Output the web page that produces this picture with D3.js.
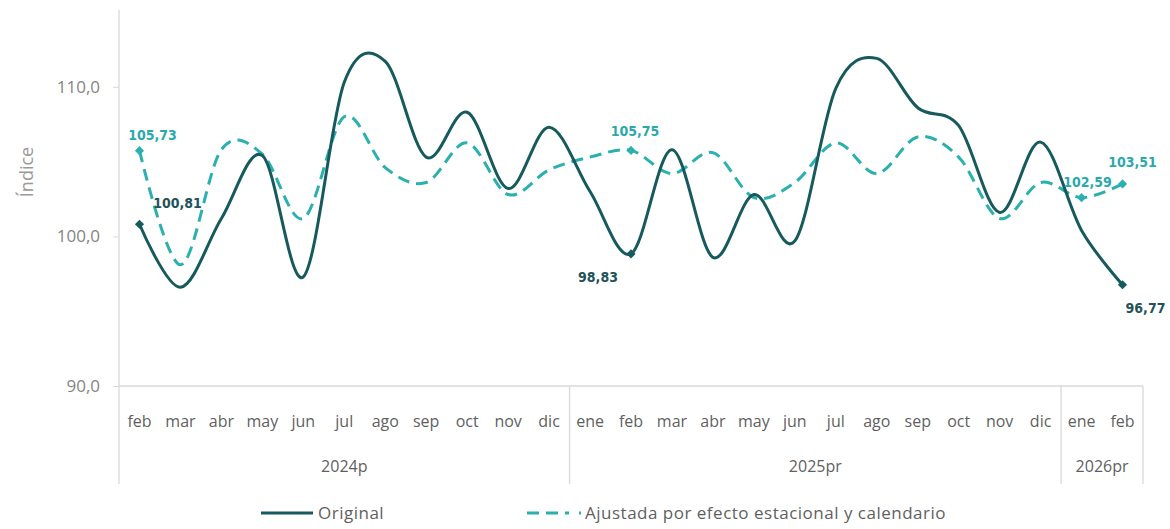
<!DOCTYPE html>
<html lang="es">
<head>
<meta charset="utf-8">
<script src="https://cdn.jsdelivr.net/npm/d3@7"></script>
<style>
  html, body { margin: 0; padding: 0; background: #ffffff; }
  svg { display: block; }
  text { font-family: "Open Sans", "Noto Sans", sans-serif; }
</style>
</head>
<body>
<svg id="chart" width="1170" height="529"></svg>
<script>
// Meses del periodo (feb 2024 – feb 2026)
const months = ["feb","mar","abr","may","jun","jul","ago","sep","oct","nov","dic",
                "ene","feb","mar","abr","may","jun","jul","ago","sep","oct","nov","dic",
                "ene","feb"];
// Grupos de año: etiqueta, primer y último índice de mes
const yearLabels = ["2024p", "2025pr", "2026pr"];
const yearStart  = [0, 11, 23];
const yearEnd    = [10, 22, 24];

// Serie original
const original = [100.81, 96.6, 101.2, 105.4, 97.3, 110.3, 111.7, 105.3, 108.3, 103.2, 107.3,
                  103.0, 98.83, 105.8, 98.6, 102.8, 99.7, 109.9, 111.9, 108.6, 107.4, 101.6, 106.3,
                  100.4, 96.77];
// Serie ajustada por efecto estacional y calendario
const adjusted = [105.73, 98.1, 105.8, 105.5, 101.2, 108.0, 104.6, 103.6, 106.25, 102.8, 104.45,
                  105.3, 105.75, 104.2, 105.6, 102.6, 103.6, 106.25, 104.2, 106.65, 105.3, 101.2, 103.6,
                  102.59, 103.51];

// Puntos con marcador y etiqueta de valor
const originalMarked = [0, 12, 24];
const adjustedMarked = [0, 12, 23, 24];

const yTicks = [90, 100, 110];
const yDomain = [90, 115];

const colorOriginal = "#165a5e";
const colorAdjusted = "#2bb0b0";
const labelOriginal = "#1f5358";
const labelAdjusted = "#2aa9ad";
const gridColor = "#d9d9d9";

const locale = d3.formatLocale({ decimal: ",", thousands: ".", grouping: [3], currency: ["", ""] });
const fmtTick = locale.format(".1f");
const fmtVal = locale.format(".2f");

const svg = d3.select("#chart");

const plotLeft = 119, plotRight = 1143, plotTop = 12, plotBase = 386, frameBottom = 484;

const x = d3.scaleBand().domain(d3.range(months.length)).range([plotLeft, plotRight]);
const cx = i => x(i) + x.bandwidth() / 2;
const y = d3.scaleLinear().domain(yDomain).range([plotBase, plotTop]);

// Eje Y
const yAxis = d3.axisLeft(y).tickValues(yTicks).tickSize(6).tickPadding(13).tickFormat(fmtTick);
const gy = svg.append("g").attr("transform", `translate(${plotLeft},0)`).call(yAxis);
gy.select(".domain").remove();
gy.selectAll(".tick line").attr("stroke", gridColor);
gy.selectAll(".tick text")
  .attr("fill", "#858585")
  .style("font-size", "17px")
  .style("font-family", "'Open Sans', sans-serif");

// Línea vertical izquierda y línea base
svg.append("line").attr("x1", plotLeft).attr("x2", plotLeft).attr("y1", 10).attr("y2", frameBottom)
   .attr("stroke", gridColor).attr("stroke-width", 1.3);
svg.append("line").attr("x1", plotLeft).attr("x2", plotRight).attr("y1", plotBase).attr("y2", plotBase)
   .attr("stroke", gridColor).attr("stroke-width", 1.3);

// Separadores de años
yearEnd.forEach(e => {
  const xs = x(e) + x.bandwidth();
  svg.append("line").attr("x1", xs).attr("x2", xs).attr("y1", plotBase).attr("y2", frameBottom)
     .attr("stroke", gridColor).attr("stroke-width", 1.3);
});

// Etiquetas de mes
svg.append("g").selectAll("text").data(months).join("text")
  .attr("x", (d, i) => cx(i))
  .attr("y", 427)
  .attr("text-anchor", "middle")
  .attr("fill", "#5f5f5f")
  .style("font-size", "16px")
  .text(d => d);

// Etiquetas de año
svg.append("g").selectAll("text").data(yearLabels).join("text")
  .attr("x", (d, i) => (x(yearStart[i]) + x(yearEnd[i]) + x.bandwidth()) / 2)
  .attr("y", 472)
  .attr("text-anchor", "middle")
  .attr("fill", "#5f5f5f")
  .style("font-size", "16px")
  .text(d => d);

// Título del eje Y
svg.append("text")
  .attr("transform", "translate(33,172) rotate(-90)")
  .attr("text-anchor", "middle")
  .attr("fill", "#9a9a9a")
  .style("font-size", "18px")
  .text("Índice");

// Líneas suavizadas
const line = d3.line().x((d, i) => cx(i)).y(d => y(d)).curve(d3.curveCatmullRom.alpha(0));

svg.append("path").datum(adjusted)
  .attr("d", line).attr("fill", "none")
  .attr("stroke", colorAdjusted).attr("stroke-width", 3)
  .attr("stroke-dasharray", "12 7");

svg.append("path").datum(original)
  .attr("d", line).attr("fill", "none")
  .attr("stroke", colorOriginal).attr("stroke-width", 3);

// Marcadores
const diamond = d3.symbol().type(d3.symbolSquare).size(42);
svg.append("g").selectAll("path").data(adjustedMarked).join("path")
  .attr("d", diamond)
  .attr("transform", i => `translate(${cx(i)},${y(adjusted[i])}) rotate(45)`)
  .attr("fill", colorAdjusted);
svg.append("g").selectAll("path").data(originalMarked).join("path")
  .attr("d", diamond)
  .attr("transform", i => `translate(${cx(i)},${y(original[i])}) rotate(45)`)
  .attr("fill", colorOriginal);

// Etiquetas de valor (desplazamiento respecto al punto)
const adjustedOffsets = [[13, -15], [4, -18], [6, -15], [10, -21]];
const originalOffsets = [[38, -20], [-33, 24], [23, 24]];

const valueFont = "'DejaVu Sans Condensed', 'DejaVu Sans', sans-serif";
svg.append("g").selectAll("text").data(adjustedMarked).join("text")
  .attr("x", (i, k) => cx(i) + adjustedOffsets[k][0])
  .attr("y", (i, k) => y(adjusted[i]) + adjustedOffsets[k][1])
  .attr("text-anchor", "middle")
  .attr("dominant-baseline", "middle")
  .attr("fill", labelAdjusted)
  .style("font-family", valueFont)
  .style("font-weight", "bold")
  .style("font-size", "14px")
  .text(i => fmtVal(adjusted[i]));

svg.append("g").selectAll("text").data(originalMarked).join("text")
  .attr("x", (i, k) => cx(i) + originalOffsets[k][0])
  .attr("y", (i, k) => y(original[i]) + originalOffsets[k][1])
  .attr("text-anchor", "middle")
  .attr("dominant-baseline", "middle")
  .attr("fill", labelOriginal)
  .style("font-family", valueFont)
  .style("font-weight", "bold")
  .style("font-size", "14px")
  .text(i => fmtVal(original[i]));

// Leyenda
const legend = svg.append("g");
legend.append("line").attr("x1", 261).attr("x2", 313).attr("y1", 513).attr("y2", 513)
  .attr("stroke", colorOriginal).attr("stroke-width", 3);
legend.append("text").attr("x", 318).attr("y", 519)
  .attr("fill", "#5f5f5f").style("font-size", "17px").style("letter-spacing", "0.5px")
  .text("Original");
legend.append("line").attr("x1", 527).attr("x2", 581).attr("y1", 513).attr("y2", 513)
  .attr("stroke", colorAdjusted).attr("stroke-width", 3)
  .attr("stroke-dasharray", "12 7 12 7 4 10");
legend.append("text").attr("x", 585).attr("y", 519)
  .attr("fill", "#5f5f5f").style("font-size", "17px").style("letter-spacing", "0.5px")
  .text("Ajustada por efecto estacional y calendario");
</script>
</body>
</html>
